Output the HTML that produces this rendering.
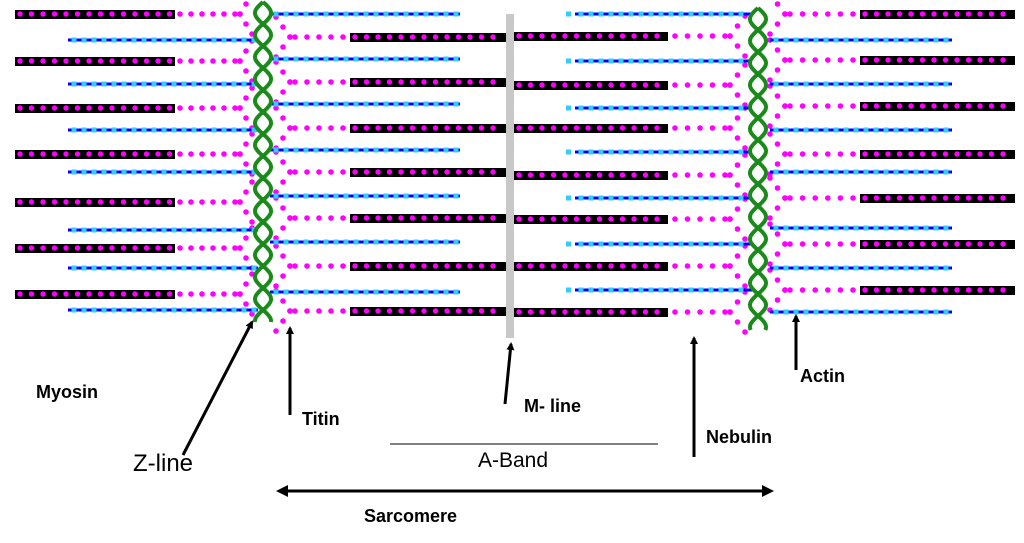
<!DOCTYPE html>
<html><head><meta charset="utf-8"><style>
body{margin:0;background:#fff;width:1024px;height:543px;overflow:hidden}
svg{position:absolute;left:0;top:0}
.b{font-family:"Liberation Sans",Arial,sans-serif;font-weight:bold;font-size:18px;fill:#000}
.n{font-family:"Liberation Sans",Arial,sans-serif;font-size:24px;fill:#000}
</style></head><body>
<svg id="s" width="1024" height="543" viewBox="0 0 1024 543" xmlns="http://www.w3.org/2000/svg">
<defs><marker id="ah" markerWidth="8" markerHeight="8" refX="6" refY="4" orient="auto" markerUnits="userSpaceOnUse"><path d="M0,0 L8,4 L0,8 Z" fill="#000"/></marker></defs>
<g id="g"></g>
<rect x="506" y="14" width="8" height="324" fill="#c8c8c8"/>
<g id="z"></g>
<g stroke="#000" stroke-width="3" fill="none">
<line x1="183" y1="455" x2="252" y2="322" marker-end="url(#ah)"/>
<line x1="290" y1="415" x2="290" y2="328" marker-end="url(#ah)"/>
<line x1="505" y1="404" x2="511" y2="344" marker-end="url(#ah)"/>
<line x1="694" y1="457" x2="694" y2="338" marker-end="url(#ah)"/>
<line x1="796" y1="370" x2="796" y2="316" marker-end="url(#ah)"/>
<line x1="285" y1="491" x2="765" y2="491"/>
</g>
<path d="M276,491 L288,485 L288,497 Z M774,491 L762,485 L762,497 Z" fill="#000"/>
<line x1="390" y1="444" x2="658" y2="444" stroke="#000" stroke-width="1"/>
<text class="b" x="36" y="398">Myosin</text>
<text class="n" x="133" y="471">Z-line</text>
<text class="b" x="302" y="425">Titin</text>
<text class="b" x="524" y="412">M- line</text>
<text class="n" x="478" y="467" style="font-size:21px">A-Band</text>
<text class="b" x="706" y="443">Nebulin</text>
<text class="b" x="800" y="382">Actin</text>
<text class="b" x="364" y="522">Sarcomere</text>
</svg>
<script>
var NS="http://www.w3.org/2000/svg",g=document.getElementById('g'),z=document.getElementById('z');
function el(p,t,a){var e=document.createElementNS(NS,t);for(var k in a)e.setAttribute(k,a[k]);p.appendChild(e);return e;}
function myo(x1,x2,y){el(g,'rect',{x:x1,y:y-4,width:x2-x1,height:9,fill:'#000'});for(var x=x1+5;x<x2-2;x+=11.5)el(g,'circle',{cx:x,cy:y,r:2.7,fill:'#f0f'});}
function act(x1,x2,y){el(g,'line',{x1:x1,y1:y,x2:x2,y2:y,stroke:'#00f','stroke-width':3});for(var x=x1+6;x<x2-3;x+=10)el(g,'rect',{x:x-2.5,y:y-2.5,width:5,height:5,fill:'#3cf'});}
function dot(x,y){el(g,'circle',{cx:x,cy:y,r:2.8,fill:'#f0f'});}
function dline(x1,y1,x2,y2,sp){var d=Math.hypot(x2-x1,y2-y1),n=Math.max(1,Math.round(d/sp));for(var i=0;i<=n;i++)dot(x1+(x2-x1)*i/n,y1+(y2-y1)*i/n);}
var lm=[14,61,108,154,202,248,294],la=[40,84,130,172,230,268,310];
lm.forEach(function(y){myo(15,175,y);dline(180,y,235,y,11.5);dline(240,y,252,y-20,11);dline(240,y,252,y+20,11);});
la.forEach(function(y){act(68,258,y);});
var cm=[37,82,128,172,218,266,311],ca=[14,59,104,150,196,242,292];
cm.forEach(function(y){myo(350,506,y);dline(343,y,295,y,11.5);dline(290,y,276,y-20,11);dline(290,y,276,y+20,11);});
ca.forEach(function(y){act(270,460,y);});
var rm=[36,85,128,175,219,266,312],ra=[14,61,108,152,198,244,290];
rm.forEach(function(y){myo(514,668,y);dline(675,y,725,y,11.5);dline(730,y,745,y-20,11);dline(730,y,745,y+20,11);});
ra.forEach(function(y){act(575,752,y);el(g,'rect',{x:566,y:y-2.5,width:5,height:5,fill:'#3cf'});});
var fm=[14,60,106,154,198,244,290],fa=[40,84,130,172,228,268,312];
fm.forEach(function(y){myo(860,1015,y);dline(853,y,790,y,11.5);dline(785,y,770,y-20,11);dline(785,y,770,y+20,11);});
fa.forEach(function(y){act(770,952,y);});
function helix(cx,y1,y2){for(var s=0;s<2;s++){var d='';for(var y=y1;y<=y2;y+=1){var x=cx+8*Math.sin((y-y1)/44*2*Math.PI+(s?Math.PI:0));d+=(y==y1?'M':'L')+x.toFixed(1)+','+y;}el(z,'path',{d:d,fill:'none',stroke:'#1a8a1a','stroke-width':4});}}
helix(263,2,322);helix(758,8,330);
</script>
</body></html>
